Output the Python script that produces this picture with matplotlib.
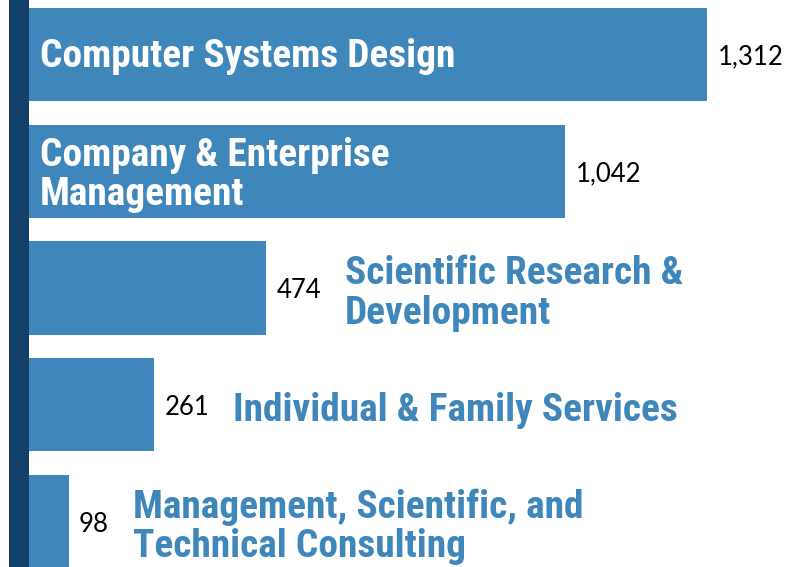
import matplotlib
matplotlib.use("Agg")
import matplotlib.pyplot as plt
import matplotlib.transforms as mtransforms
from matplotlib import font_manager as fm

categories = ["Computer Systems Design",
              "Company & Enterprise\nManagement",
              "Scientific Research &\nDevelopment",
              "Individual & Family Services",
              "Management, Scientific, and\nTechnical Consulting"]
values = [1312, 1042, 474, 261, 98]
inside = [True, True, False, False, False]

BAR = "#3f86bb"
DARK = "#133f6b"

names = {f.name for f in fm.fontManager.ttflist}
cond = "DejaVu Sans"
for cand in ["Roboto Condensed", "Archivo Narrow", "Oswald", "Fjalla One", "Sofia Sans Condensed", "Saira Condensed"]:
    if cand in names:
        cond = cand
        break
numfont = "Lato" if "Lato" in names else "DejaVu Sans"

fig = plt.figure(figsize=(7.85, 5.67), dpi=100)
ax = fig.add_axes([0, 0, 1, 1])
ypos = list(range(len(values)))
ax.barh(ypos, values, height=0.8, color=BAR, zorder=2)
shift = mtransforms.ScaledTranslation(2 / 100, 0, fig.dpi_scale_trans)
ax.plot([0, 0], [0, 1], color=DARK, lw=14.4, zorder=3, solid_capstyle="butt",
        transform=ax.get_xaxis_transform() + shift, clip_on=False)
ax.set_xlim(-32.3, 1460)
ax.set_ylim(4.39, -0.467)
ax.axis("off")

fig.canvas.draw()
r = fig.canvas.get_renderer()
probe = fig.text(0, 0, categories[0], fontsize=28, family=cond, fontweight="bold")
w = probe.get_window_extent(r).width
probe.remove()
fs = 28 * 416 / w

for i, (c, v, ins) in enumerate(zip(categories, values, inside)):
    t = ax.annotate(f"{v:,}", xy=(v, i), xytext=(7.5, -2), textcoords="offset points",
                    ha="left", va="center", fontsize=18.5, family=numfont, color="black")
    if ins:
        dy = -2.5 if "\n" in c else -1.5
        ax.annotate(c, xy=(0, i), xytext=(16.5, dy), textcoords="offset points",
                    ha="left", va="center", fontsize=fs, family=cond, fontweight="bold",
                    color="white", linespacing=1.08, zorder=4)
    else:
        bb = t.get_window_extent(r)
        x_data = ax.transData.inverted().transform((bb.x1, 0))[0]
        ax.annotate(c, xy=(x_data, i), xytext=(17, -4), textcoords="offset points",
                    ha="left", va="center", fontsize=fs, family=cond, fontweight="bold",
                    color=BAR, linespacing=1.08, zorder=4)

fig.savefig("out.png", dpi=100)
